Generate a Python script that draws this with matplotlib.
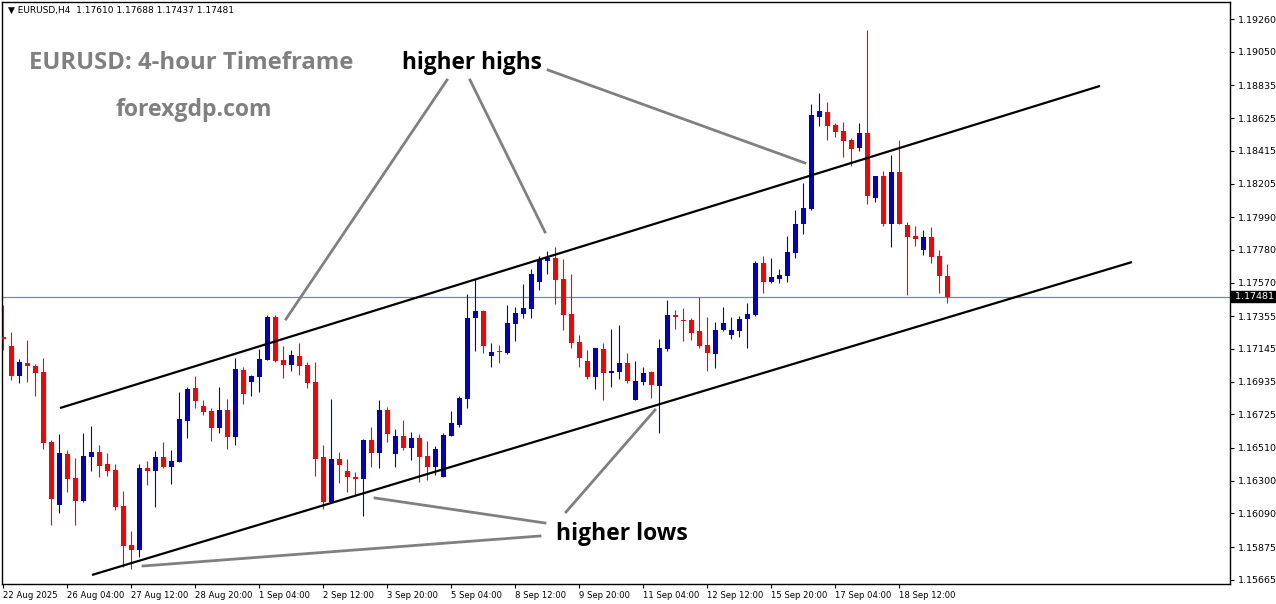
import matplotlib
matplotlib.use("Agg")
import matplotlib.pyplot as plt
import matplotlib.transforms as mtransforms
from matplotlib.lines import Line2D
import numpy as np

# ---------------- data (EURUSD H4 candles) ----------------
opens = [1.17222, 1.17164, 1.16972, 1.17055, 1.17036, 1.16997, 1.16549, 1.16145, 1.16472, 1.16318,
         1.16170, 1.16452, 1.16485, 1.16408, 1.16369, 1.16138, 1.15888, 1.15856, 1.16382, 1.16363,
         1.16452, 1.16388, 1.16420, 1.16683, 1.16895, 1.16779, 1.16747, 1.16638, 1.16754, 1.16581,
         1.17010, 1.16933, 1.16965, 1.17074, 1.17350, 1.17074, 1.17042, 1.17100, 1.17042, 1.16933,
         1.16452, 1.16164, 1.16440, 1.16363, 1.16324, 1.16311, 1.16561, 1.16478, 1.16754, 1.16472,
         1.16587, 1.16510, 1.16574, 1.16459, 1.16388, 1.16324, 1.16587, 1.16658, 1.16824, 1.17343,
         1.17388, 1.17100, 1.17132, 1.17119, 1.17305, 1.17369, 1.17401, 1.17574, 1.17709, 1.17728,
         1.17593, 1.17369, 1.17190, 1.17068, 1.16965, 1.17145, 1.16991, 1.16997, 1.17055, 1.16818,
         1.16933, 1.16997, 1.16908, 1.17145, 1.17363, 1.17331, 1.17331, 1.17260, 1.17170, 1.17113,
         1.17267, 1.17234, 1.17260, 1.17337, 1.17363, 1.17696, 1.17574, 1.17593, 1.17613, 1.17760,
         1.17946, 1.18042, 1.18632, 1.18664, 1.18581, 1.18542, 1.18484, 1.18433, 1.18529, 1.18113,
         1.18254, 1.17946, 1.18279, 1.17940, 1.17869, 1.17779, 1.17863, 1.17741, 1.17610]
highs = [1.17427, 1.17254, 1.17081, 1.17202, 1.17049, 1.17087, 1.16561, 1.16600, 1.16497, 1.16446,
         1.16606, 1.16651, 1.16529, 1.16478, 1.16408, 1.16234, 1.15978, 1.16408, 1.16427, 1.16491,
         1.16549, 1.16497, 1.16869, 1.16901, 1.16972, 1.16818, 1.16767, 1.16901, 1.16824, 1.17087,
         1.17029, 1.16978, 1.17145, 1.17363, 1.17363, 1.17164, 1.17138, 1.17183, 1.17061, 1.17061,
         1.16529, 1.16824, 1.16485, 1.16440, 1.16356, 1.16568, 1.16645, 1.16818, 1.16773, 1.16632,
         1.16690, 1.16613, 1.16600, 1.16555, 1.16523, 1.16606, 1.16747, 1.16843, 1.17497, 1.17593,
         1.17395, 1.17183, 1.17170, 1.17427, 1.17414, 1.17561, 1.17658, 1.17741, 1.17773, 1.17799,
         1.17722, 1.17626, 1.17234, 1.17138, 1.17151, 1.17183, 1.17273, 1.17299, 1.17119, 1.17068,
         1.17029, 1.17003, 1.17209, 1.17459, 1.17395, 1.17408, 1.17343, 1.17478, 1.17350, 1.17318,
         1.17414, 1.17350, 1.17356, 1.17440, 1.17709, 1.17741, 1.17728, 1.17658, 1.17869, 1.18036,
         1.18209, 1.18715, 1.18786, 1.18728, 1.18593, 1.18600, 1.18497, 1.18593, 1.19190, 1.18254,
         1.18286, 1.18388, 1.18484, 1.17959, 1.17933, 1.17908, 1.17927, 1.17779, 1.17688]
lows = [1.17138, 1.16946, 1.16927, 1.16933, 1.16843, 1.16504, 1.16017, 1.16094, 1.16228, 1.16017,
        1.16164, 1.16363, 1.16324, 1.16331, 1.16113, 1.15747, 1.15735, 1.15811, 1.16273, 1.16132,
        1.16382, 1.16279, 1.16420, 1.16574, 1.16767, 1.16722, 1.16555, 1.16606, 1.16504, 1.16529,
        1.16792, 1.16843, 1.16869, 1.17074, 1.17061, 1.16959, 1.17004, 1.16978, 1.16895, 1.16331,
        1.16119, 1.16158, 1.16286, 1.16228, 1.16209, 1.16074, 1.16388, 1.16382, 1.16549, 1.16388,
        1.16497, 1.16433, 1.16292, 1.16305, 1.16337, 1.16324, 1.16587, 1.16645, 1.16767, 1.17132,
        1.17119, 1.17029, 1.17055, 1.17113, 1.17196, 1.17343, 1.17343, 1.17523, 1.17626, 1.17433,
        1.17267, 1.17151, 1.17029, 1.16952, 1.16888, 1.16818, 1.16901, 1.16952, 1.16927, 1.16818,
        1.16914, 1.16831, 1.16606, 1.17132, 1.17273, 1.17196, 1.17202, 1.17151, 1.17004, 1.17023,
        1.17260, 1.17209, 1.17222, 1.17151, 1.17356, 1.17504, 1.17568, 1.17568, 1.17574, 1.17728,
        1.17882, 1.18036, 1.18574, 1.18484, 1.18504, 1.18375, 1.18318, 1.18414, 1.18074, 1.18087,
        1.17933, 1.17799, 1.17946, 1.17491, 1.17805, 1.17747, 1.17696, 1.17504, 1.17437]
closes = [1.17209, 1.16972, 1.17061, 1.17036, 1.16991, 1.16542, 1.16183, 1.16478, 1.16311, 1.16170,
          1.16459, 1.16485, 1.16395, 1.16363, 1.16132, 1.15882, 1.15856, 1.16382, 1.16363, 1.16452,
          1.16388, 1.16427, 1.16696, 1.16888, 1.16811, 1.16741, 1.16638, 1.16754, 1.16581, 1.17017,
          1.16856, 1.16972, 1.17081, 1.17350, 1.17068, 1.17042, 1.17106, 1.17036, 1.16927, 1.16440,
          1.16164, 1.16440, 1.16401, 1.16324, 1.16311, 1.16561, 1.16478, 1.16754, 1.16600, 1.16587,
          1.16510, 1.16574, 1.16452, 1.16388, 1.16504, 1.16593, 1.16670, 1.16831, 1.17343, 1.17388,
          1.17164, 1.17126, 1.17126, 1.17311, 1.17376, 1.17408, 1.17626, 1.17715, 1.17728, 1.17587,
          1.17363, 1.17183, 1.17087, 1.16965, 1.17151, 1.16991, 1.17004, 1.17055, 1.16940, 1.16940,
          1.16991, 1.16914, 1.17151, 1.17363, 1.17350, 1.17324, 1.17247, 1.17164, 1.17119, 1.17267,
          1.17311, 1.17267, 1.17337, 1.17369, 1.17696, 1.17574, 1.17606, 1.17619, 1.17767, 1.17946,
          1.18049, 1.18645, 1.18670, 1.18574, 1.18536, 1.18478, 1.18427, 1.18529, 1.18125, 1.18254,
          1.17946, 1.18279, 1.17946, 1.17863, 1.17850, 1.17863, 1.17734, 1.17610, 1.17481]

date_ticks = [0, 8, 16, 24, 32, 40, 48, 56, 64, 72, 80, 88, 96, 104, 112]
date_labels = ["22 Aug 2025", "26 Aug 04:00", "27 Aug 12:00", "28 Aug 20:00", "1 Sep 04:00",
               "2 Sep 12:00", "3 Sep 20:00", "5 Sep 04:00", "8 Sep 12:00", "9 Sep 20:00",
               "11 Sep 04:00", "12 Sep 12:00", "15 Sep 20:00", "17 Sep 04:00", "18 Sep 12:00"]
price_labels = ["1.19260", "1.19050", "1.18835", "1.18625", "1.18415", "1.18205", "1.17990",
                "1.17780", "1.17570", "1.17355", "1.17145", "1.16935", "1.16725", "1.16510",
                "1.16300", "1.16090", "1.15875", "1.15665"]
last_price = 1.17481

# channel lines (bar index, price)
upper_channel = [(7.125, 1.16766), (137.125, 1.18831)]
lower_channel = [(11.125, 1.15696), (141.125, 1.17702)]

# ---------------- figure ----------------
W, H = 1276, 604
fig = plt.figure(figsize=(W / 100, H / 100), dpi=100)
fig.patch.set_facecolor("white")
ax = fig.add_axes([2 / W, 20 / H, 1228 / W, 582 / H])
ax.set_facecolor("white")

BLUE = "#0000CD"
RED = "#FF0000"

o = np.array(opens); h = np.array(highs); l = np.array(lows); c = np.array(closes)
x = np.arange(len(o))
cols = np.where(c >= o, BLUE, RED)
ax.vlines(x, l, h, colors=cols, linewidth=0.8, zorder=3)
body_bottom = np.minimum(o, c)
body_h = np.maximum(np.abs(c - o), 0.00007)
ax.bar(x, body_h, bottom=body_bottom, width=0.625, color=cols, linewidth=0, zorder=4)

ax.set_xlim(-0.125, 153.375)
ax.set_ylim(1.15638, 1.19369)

# current price line
ax.axhline(last_price, color="#7A8899", linewidth=0.9, zorder=2)

# channels
for line in (upper_channel, lower_channel):
    ax.plot([line[0][0], line[1][0]], [line[0][1], line[1][1]], color="black",
            linewidth=1.6, zorder=5, solid_capstyle="butt")

# axes styling
for s in ax.spines.values():
    s.set_color("black")
    s.set_linewidth(1.0)
ax.yaxis.tick_right()
ax.set_yticks([float(p) for p in price_labels])
ax.set_yticklabels(price_labels)
ax.set_xticks(date_ticks)
ax.set_xticklabels(date_labels)
ax.tick_params(axis="y", direction="out", length=3, width=0.8, pad=3, labelsize=6.8,
               colors="black", labelfontfamily="DejaVu Sans")
ax.tick_params(axis="x", direction="out", length=3, width=0.8, pad=2, labelsize=6.1,
               colors="black", labelfontfamily="DejaVu Sans")
for lbl in ax.get_xticklabels():
    lbl.set_horizontalalignment("left")

# current price tag
trans = mtransforms.blended_transform_factory(ax.transAxes, ax.transData)
ax.text(1.0015, last_price, " 1.17481 ", transform=trans, ha="left", va="center",
        color="white", fontsize=6.8, family="DejaVu Sans", zorder=10,
        bbox=dict(boxstyle="square,pad=0.12", fc="black", ec="black"))

# ---------------- annotations (pixel coordinates from top-left) ----------------
def fp(px, py):
    return px / W, 1 - py / H

fig.text(*fp(8, 10), "▼ EURUSD,H4  1.17610 1.17688 1.17437 1.17481", fontsize=6.5,
         family="DejaVu Sans", va="center", ha="left")

fig.text(*fp(191, 63), "EURUSD: 4-hour Timeframe", fontsize=17.2, fontweight="bold",
         family="Open Sans", color="#808080", ha="center", va="center")
fig.text(*fp(194, 110), "forexgdp.com", fontsize=16.6, fontweight="bold",
         family="Open Sans", color="#808080", ha="center", va="center")

fig.text(*fp(472, 63), "higher highs", fontsize=16.3, fontweight="bold",
         family="Open Sans", color="black", ha="center", va="center")
fig.text(*fp(622, 534), "higher lows", fontsize=16.5, fontweight="bold",
         family="Open Sans", color="black", ha="center", va="center")

pointers = [((447, 80), (286, 319)), ((470, 80), (545, 232)), ((548, 70), (805, 163)),
            ((566, 512), (655, 410)), ((545, 523), (375, 498)), ((540, 536), (143, 566))]
for (x0, y0), (x1, y1) in pointers:
    a0 = fp(x0, y0); a1 = fp(x1, y1)
    fig.add_artist(Line2D([a0[0], a1[0]], [a0[1], a1[1]], transform=fig.transFigure,
                          color="#808080", linewidth=2.0, zorder=6))

fig.savefig("out.png", dpi=100)
